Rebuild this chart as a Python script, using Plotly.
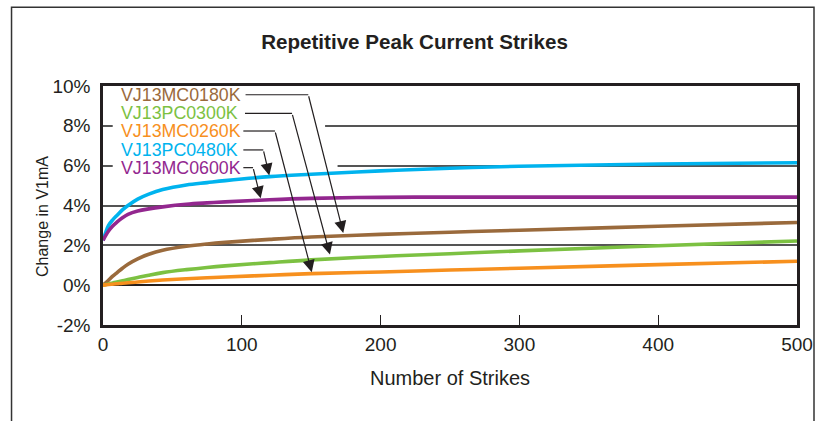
import plotly.graph_objects as go

# ---- data ----
strikes = [0, 2, 4, 7, 10, 14, 18, 25, 33, 43, 60, 75, 88, 120, 150, 200, 250, 300, 400, 500]
series_names = ["VJ13MC0180K", "VJ13PC0300K", "VJ13MC0260K", "VJ13PC0480K", "VJ13MC0600K"]
mc0180k = [0, 0.12, 0.25, 0.45, 0.62, 0.85, 1.05, 1.32, 1.55, 1.75, 1.95, 2.07, 2.15, 2.30, 2.42, 2.55, 2.66, 2.76, 2.96, 3.15]
pc0300k = [0, 0.03, 0.06, 0.11, 0.16, 0.22, 0.28, 0.38, 0.50, 0.63, 0.78, 0.89, 0.97, 1.13, 1.27, 1.44, 1.58, 1.72, 1.98, 2.22]
mc0260k = [0, 0.015, 0.03, 0.05, 0.07, 0.10, 0.12, 0.16, 0.21, 0.26, 0.32, 0.37, 0.41, 0.50, 0.58, 0.66, 0.76, 0.85, 1.03, 1.20]
pc0480k = [2.25, 2.65, 3.00, 3.28, 3.50, 3.78, 4.00, 4.32, 4.57, 4.80, 5.03, 5.15, 5.25, 5.45, 5.57, 5.74, 5.87, 5.97, 6.08, 6.15]
mc0600k = [2.25, 2.50, 2.72, 2.97, 3.16, 3.38, 3.55, 3.72, 3.83, 3.93, 4.06, 4.13, 4.18, 4.29, 4.36, 4.41, 4.42, 4.42, 4.42, 4.42]
series_values = [mc0180k, pc0300k, mc0260k, pc0480k, mc0600k]
colors = ["#9a6a3c", "#7cc142", "#f7901e", "#00b3ee", "#93278f"]

y_ticks = [-2, 0, 2, 4, 6, 8, 10]
y_tick_labels = ["-2%", "0%", "2%", "4%", "6%", "8%", "10%"]
x_ticks = [0, 100, 200, 300, 400, 500]

# label callouts: label anchor (x, y), leader corner x, arrow tip (x, y)
label_x = 11.5
label_y = [9.56, 8.63, 7.74, 6.79, 5.90]
leader_start_x = [102.7, 102.3, 101.1, 101.1, 101.1]
leader_corner_x = [147.9, 136.2, 123.9, 115.5, 108.1]
tip_x = [173.1, 163.5, 150.4, 119.8, 113.6]
tip_y = [2.62, 1.54, 0.65, 5.51, 4.36]

INK = "#231f20"
FONT = "Liberation Sans"

fig = go.Figure()
for name, vals, col in zip(series_names, series_values, colors):
    fig.add_trace(go.Scatter(x=strikes, y=vals, mode="lines", name=name,
                             line=dict(color=col, width=3.6, shape="spline", smoothing=1.0),
                             showlegend=False, hoverinfo="skip"))

# white masks over the gridlines behind the label block
fig.add_shape(type="rect", x0=7, x1=160, y0=7.85, y1=8.15, layer="between",
              fillcolor="white", line=dict(width=0))
fig.add_shape(type="rect", x0=7, x1=169, y0=5.85, y1=6.15, layer="between",
              fillcolor="white", line=dict(width=0))

for i, name in enumerate(series_names):
    fig.add_annotation(x=label_x, y=label_y[i], xref="x", yref="y", text=name,
                       showarrow=False, xanchor="left", yanchor="middle",
                       font=dict(family=FONT, size=17.8, color=colors[i]))
    fig.add_shape(type="line", x0=leader_start_x[i], x1=leader_corner_x[i],
                  y0=label_y[i], y1=label_y[i], xref="x", yref="y",
                  line=dict(color=INK, width=1.2))
    fig.add_annotation(x=tip_x[i], y=tip_y[i], ax=leader_corner_x[i], ay=label_y[i],
                       xref="x", yref="y", axref="x", ayref="y", text="",
                       showarrow=True, arrowhead=2, arrowsize=2.0, arrowwidth=1.2,
                       arrowcolor=INK, standoff=0)

# y-axis title placed as an annotation (slightly below centre, as in the reference)
fig.add_annotation(x=-0.0879, y=0.456, xref="paper", yref="paper",
                   text="Change in V1mA", textangle=-90, showarrow=False,
                   xanchor="center", yanchor="middle",
                   font=dict(family=FONT, size=16, color=INK))

# outer frame
fig.add_shape(type="rect", xref="paper", yref="paper", x0=-0.1318, x1=1.0245,
              y0=-0.45, y1=1.33, line=dict(color="#333333", width=1.5), layer="above")

fig.update_layout(
    width=829, height=421,
    margin=dict(l=103, r=32, t=86, b=96),
    paper_bgcolor="white", plot_bgcolor="white",
    title=dict(text="<b>Repetitive Peak Current Strikes</b>", x=0.5, xanchor="center",
               xref="container", y=0.9, yanchor="middle",
               font=dict(family=FONT, size=20.6, color=INK)),
    font=dict(family=FONT, color=INK),
)
fig.update_xaxes(range=[0, 500], tickvals=x_ticks, ticks="inside", ticklen=10,
                 tickcolor=INK, tickwidth=1, showgrid=False, zeroline=False,
                 showline=True, linecolor=INK, linewidth=2.5, mirror=True,
                 tickfont=dict(family=FONT, size=19, color=INK),
                 title=dict(text="Number of Strikes", standoff=18,
                            font=dict(family=FONT, size=20, color=INK)))
fig.update_yaxes(range=[-2, 10], tickvals=y_ticks, ticktext=y_tick_labels, ticks="",
                 showgrid=True, gridcolor="#555555", gridwidth=1.5,
                 zeroline=True, zerolinecolor=INK, zerolinewidth=1.5,
                 showline=True, linecolor=INK, linewidth=2.5, mirror=True,
                 ticklabelstandoff=6,
                 tickfont=dict(family=FONT, size=19, color=INK))

fig.write_html("out.html", config={"displayModeBar": False},
               post_script="document.body.style.margin='0px';")
